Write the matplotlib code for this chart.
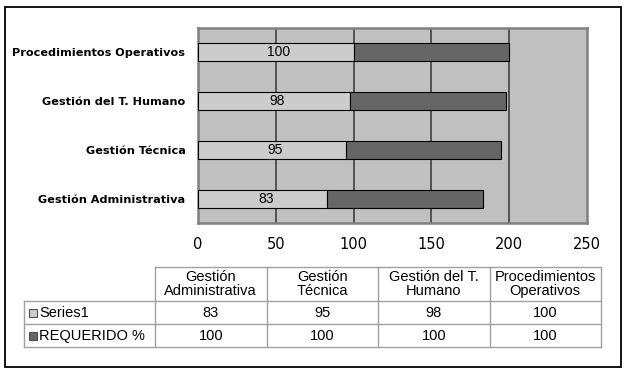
import matplotlib.pyplot as plt
from matplotlib.patches import Rectangle

categorias = ['Gestión Administrativa', 'Gestión Técnica', 'Gestión del T. Humano', 'Procedimientos Operativos']
tabla_cols = ['Gestión\nAdministrativa', 'Gestión\nTécnica', 'Gestión del T.\nHumano', 'Procedimientos\nOperativos']
series1 = [83, 95, 98, 100]
requerido = [100, 100, 100, 100]
nombres = ['Series1', 'REQUERIDO %']
colores = ['#cccccc', '#666666']

W, H = 632, 376
fig = plt.figure(figsize=(W / 100, H / 100), dpi=100)

# capa de pixeles para marco y tabla
bg = fig.add_axes([0, 0, 1, 1])
bg.set_xlim(0, W)
bg.set_ylim(H, 0)
bg.axis('off')
bg.add_patch(Rectangle((5, 7), 616, 360, fill=False, ec='black', lw=1.3))

# grafico de barras
x0, x1, y0, y1 = 198, 587, 28, 223
ax = fig.add_axes([x0 / W, 1 - y1 / H, (x1 - x0) / W, (y1 - y0) / H])
ax.set_facecolor('#c0c0c0')
ypos = range(len(categorias))
ax.barh(ypos, series1, height=0.37, color=colores[0], edgecolor='black', lw=0.8, zorder=3)
ax.barh(ypos, requerido, left=series1, height=0.37, color=colores[1], edgecolor='black', lw=0.8, zorder=3)
for y, v in zip(ypos, series1):
    ax.text(v / 2 + 2, y, str(v), ha='center', va='center', fontsize=10,
            family='Liberation Sans', zorder=4)
for gx in [50, 100, 150, 200]:
    ax.axvline(gx, color='#404040', lw=1.2, zorder=1)
ax.set_xlim(0, 250)
ax.set_ylim(-0.5, 3.5)
ax.set_xticks([0, 50, 100, 150, 200, 250])
ax.tick_params(axis='x', length=0, labelsize=10.5, pad=10)
ax.tick_params(axis='y', length=0, pad=9)
ax.set_yticks(list(ypos))
ax.set_yticklabels(categorias, fontsize=8.1, fontweight='bold')
for s in ax.spines.values():
    s.set_color('#808080')
    s.set_linewidth(1.8)

# tabla de datos
lc = '#a0a0a0'
tx0, tlab, tx1 = 24, 155, 601
ty = [267, 301, 324, 347]
cw = (tx1 - tlab) / len(tabla_cols)
bg.plot([tlab, tx1], [ty[0], ty[0]], color=lc, lw=1)
for yy in ty[1:]:
    bg.plot([tx0, tx1], [yy, yy], color=lc, lw=1)
bg.plot([tx0, tx0], [ty[1], ty[3]], color=lc, lw=1)
for i in range(len(tabla_cols) + 1):
    xx = tlab + i * cw
    bg.plot([xx, xx], [ty[0], ty[3]], color=lc, lw=1)
for i, c in enumerate(tabla_cols):
    bg.text(tlab + (i + 0.5) * cw, (ty[0] + ty[1]) / 2, c, ha='center', va='center',
            fontsize=10.5, family='Liberation Sans', linespacing=1.05)
for r, (vals, nom, col) in enumerate(zip([series1, requerido], nombres, colores)):
    yc = (ty[r + 1] + ty[r + 2]) / 2
    bg.add_patch(Rectangle((29, yc - 4), 8, 8, fc=col, ec='#505050', lw=0.8))
    bg.text(39, yc + 0.5, nom, ha='left', va='center', fontsize=10.5, family='Liberation Sans')
    for i, v in enumerate(vals):
        bg.text(tlab + (i + 0.5) * cw, yc + 0.5, str(v), ha='center', va='center',
                fontsize=10.5, family='Liberation Sans')

fig.savefig('out.png', dpi=100)
